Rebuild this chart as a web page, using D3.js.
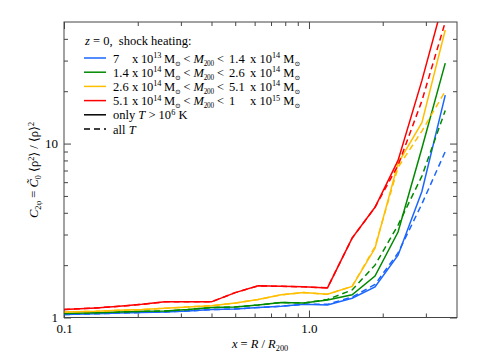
<!DOCTYPE html>
<html>
<head>
<meta charset="utf-8">
<script src="https://cdn.jsdelivr.net/npm/d3@7"></script>
<style>
  body { margin: 0; background: #fff; }
  svg { font-family: "Liberation Serif", "DejaVu Serif", serif; }
  svg text { white-space: pre; }
  .axis path { stroke: #444; }
  .axis line { stroke: #444; }
  .axis text { font-size: 13px; fill: #000; font-family: "Liberation Serif", "DejaVu Serif", serif; }
</style>
</head>
<body>
<div id="vis"></div>
<script>
// chart size and plot box
const FRAME_WIDTH = 477;
const FRAME_HEIGHT = 361;
const MARGINS = {left: 64, right: 20, top: 22, bottom: 43.5};

// radii x = R / R200
const radii = [0.10, 0.135, 0.168, 0.208, 0.258, 0.32, 0.40, 0.50, 0.62, 0.77,
               0.95, 1.19, 1.50, 1.86, 2.31, 2.89, 3.60];

// clumping factor, only T > 10^6 K (solid) and all T (dashed)
const blueHot   = [1.04, 1.05, 1.06, 1.07, 1.075, 1.09, 1.11, 1.12, 1.14, 1.16, 1.19, 1.18, 1.29, 1.50, 2.28, 5.3, 19];
const blueAll   = [1.04, 1.05, 1.06, 1.07, 1.075, 1.09, 1.11, 1.12, 1.14, 1.16, 1.19, 1.19, 1.31, 1.55, 2.35, 4.5, 9.0];
const greenHot  = [1.056, 1.065, 1.075, 1.085, 1.09, 1.11, 1.14, 1.15, 1.18, 1.22, 1.21, 1.26, 1.35, 1.73, 3.1, 9.4, 29];
const greenAll  = [1.056, 1.065, 1.075, 1.085, 1.09, 1.11, 1.14, 1.15, 1.18, 1.22, 1.21, 1.27, 1.44, 2.0, 3.4, 6.5, 15.5];
const yellowHot = [1.075, 1.085, 1.10, 1.11, 1.13, 1.15, 1.17, 1.21, 1.27, 1.35, 1.39, 1.36, 1.51, 2.50, 7.7, 13.2, 45];
const yellowAll = [1.075, 1.085, 1.10, 1.11, 1.13, 1.15, 1.17, 1.21, 1.27, 1.35, 1.39, 1.36, 1.51, 2.55, 7.3, 11.8, 20];
const redHot    = [1.11, 1.135, 1.16, 1.19, 1.23, 1.23, 1.23, 1.39, 1.52, 1.51, 1.50, 1.48, 2.86, 4.3, 8.0, 23, 72];
const redAll    = [1.11, 1.135, 1.16, 1.19, 1.23, 1.23, 1.23, 1.39, 1.52, 1.51, 1.50, 1.48, 2.86, 4.3, 7.5, 17.6, 50];

const colors = ["#1a66ff", "#008a00", "#ffbf00", "#ff0000"];

// legend rows: [first number, exponent, second number, exponent]
const massBins = [["7", "13", "1.4", "14"],
                  ["1.4", "14", "2.6", "14"],
                  ["2.6", "14", "5.1", "14"],
                  ["5.1", "14", "1", "15"]];

const xMajor = [0.1, 1.0];
const xMinor = [0.2, 0.3, 0.4, 0.5, 0.6, 0.7, 0.8, 0.9, 2, 3];
const yMajor = [1, 10];
const yMinor = [2, 3, 4, 5, 6, 7, 8, 9, 20, 30, 40];

const VIS_WIDTH = FRAME_WIDTH - MARGINS.left - MARGINS.right;
const VIS_HEIGHT = FRAME_HEIGHT - MARGINS.top - MARGINS.bottom;

const FRAME = d3.select("#vis")
                .append("svg")
                  .attr("width", FRAME_WIDTH)
                  .attr("height", FRAME_HEIGHT);

const X_SCALE = d3.scaleLog().domain([0.1, 4.02]).range([0, VIS_WIDTH]);
const Y_SCALE = d3.scaleLog().domain([1, 50]).range([VIS_HEIGHT, 0]);

const G = FRAME.append("g")
               .attr("transform", "translate(" + MARGINS.left + "," + MARGINS.top + ")");

G.append("clipPath").attr("id", "clip")
  .append("rect").attr("width", VIS_WIDTH).attr("height", VIS_HEIGHT);

// ticks on all four sides, pointing inwards
function addAxis(axisFn, scale, vals, size, tr, labels) {
  const ax = axisFn(scale).tickValues(vals).tickSizeInner(-size).tickSizeOuter(0);
  if (labels) { ax.tickPadding(6).tickFormat(labels); } else { ax.tickFormat(""); }
  const g = G.append("g").attr("class", "axis").attr("transform", tr).call(ax);
  g.select(".domain").remove();
  return g;
}
const fmtX = (d) => d.toFixed(1);
const fmtY = (d) => String(d);
addAxis(d3.axisBottom, X_SCALE, xMajor, 7, "translate(0," + VIS_HEIGHT + ")", fmtX);
addAxis(d3.axisBottom, X_SCALE, xMinor, 4, "translate(0," + VIS_HEIGHT + ")", null);
addAxis(d3.axisTop, X_SCALE, xMajor, 7, "translate(0,0)", null);
addAxis(d3.axisTop, X_SCALE, xMinor, 4, "translate(0,0)", null);
addAxis(d3.axisLeft, Y_SCALE, yMajor, 7, "translate(0,0)", fmtY);
addAxis(d3.axisLeft, Y_SCALE, yMinor, 4, "translate(0,0)", null);
addAxis(d3.axisRight, Y_SCALE, yMajor, 7, "translate(" + VIS_WIDTH + ",0)", null);
addAxis(d3.axisRight, Y_SCALE, yMinor, 4, "translate(" + VIS_WIDTH + ",0)", null);

// curves
const line = d3.line()
               .x((d, i) => X_SCALE(radii[i]))
               .y((d) => Y_SCALE(d));

const series = [[blueHot, blueAll], [greenHot, greenAll], [yellowHot, yellowAll], [redHot, redAll]];
const curves = G.append("g").attr("clip-path", "url(#clip)");
series.forEach((s, k) => {
  curves.append("path").attr("d", line(s[1])).attr("fill", "none")
        .attr("stroke", colors[k]).attr("stroke-width", 1.5).attr("stroke-dasharray", "6,4");
  curves.append("path").attr("d", line(s[0])).attr("fill", "none")
        .attr("stroke", colors[k]).attr("stroke-width", 1.5);
});

// frame
G.append("rect").attr("width", VIS_WIDTH).attr("height", VIS_HEIGHT)
  .attr("fill", "none").attr("stroke", "#444").attr("stroke-width", 1);

// rich text helper: segments {t, it, sup, sub}
function richText(sel, x, y, parts, size) {
  const t = sel.append("text").attr("x", x).attr("y", y).attr("font-size", size);
  let shift = 0;
  parts.forEach((p) => {
    const target = p.sup ? -0.36 * size : (p.sub ? 0.26 * size : 0);
    const sp = t.append("tspan").text(p.t).attr("dy", target - shift);
    if (p.it) sp.attr("font-style", "italic");
    if (p.sup || p.sub) sp.attr("font-size", size * (p.small || 0.66));
    shift = target;
  });
  return t;
}

// legend
const FS = 12.5;
const LEG = FRAME.append("g");
richText(LEG, 85, 45, [{t: "z", it: true}, {t: " = 0,  shock heating:"}], FS);
massBins.forEach((b, i) => {
  const yy = 58 + i * 14.2;
  LEG.append("line").attr("x1", 84).attr("x2", 106).attr("y1", yy).attr("y2", yy)
     .attr("stroke", colors[i]).attr("stroke-width", 1.5);
  richText(LEG, 113, yy + 4.5, [{t: b[0]}], FS);
  richText(LEG, 132, yy + 4.5, [{t: "x 10"}, {t: b[1], sup: true}, {t: " M"}, {t: "\u2299", sub: true, small: 0.55},
                                {t: " < "}, {t: "M", it: true}, {t: "200", sub: true, small: 0.58}, {t: " <"}], FS)
    .attr("textLength", 92).attr("lengthAdjust", "spacing");
  richText(LEG, 229, yy + 4.5, [{t: b[2]}], FS);
  richText(LEG, 250, yy + 4.5, [{t: "x 10"}, {t: b[3], sup: true}, {t: " M"}, {t: "\u2299", sub: true, small: 0.55}], FS);
});
const yT = 58 + 4 * 14.2;
LEG.append("line").attr("x1", 84).attr("x2", 106).attr("y1", yT).attr("y2", yT)
   .attr("stroke", "#000").attr("stroke-width", 1.5);
richText(LEG, 113, yT + 4.5, [{t: "only "}, {t: "T", it: true}, {t: " > 10"}, {t: "6", sup: true}, {t: " K"}], FS);
const yA = yT + 14.2;
LEG.append("line").attr("x1", 84).attr("x2", 106).attr("y1", yA).attr("y2", yA)
   .attr("stroke", "#000").attr("stroke-width", 1.5).attr("stroke-dasharray", "6,4");
richText(LEG, 113, yA + 4.5, [{t: "all "}, {t: "T", it: true}], FS);

// axis titles
richText(FRAME, 0, 0, [{t: "x", it: true}, {t: " = "}, {t: "R", it: true}, {t: " / "},
                       {t: "R", it: true}, {t: "200", sub: true}], FS)
  .attr("text-anchor", "middle").attr("transform", "translate(260,348)");
richText(FRAME, 0, 0, [{t: "C", it: true}, {t: "2\u03c6", sub: true}, {t: " = "}, {t: "C\u0303", it: true},
                       {t: "0", sub: true}, {t: " \u27e8\u03c1"}, {t: "2", sup: true}, {t: "\u27e9 / \u27e8\u03c1\u27e9"},
                       {t: "2", sup: true}], FS)
  .attr("text-anchor", "middle").attr("transform", "translate(38,170) rotate(-90)");
</script>
</body>
</html>
